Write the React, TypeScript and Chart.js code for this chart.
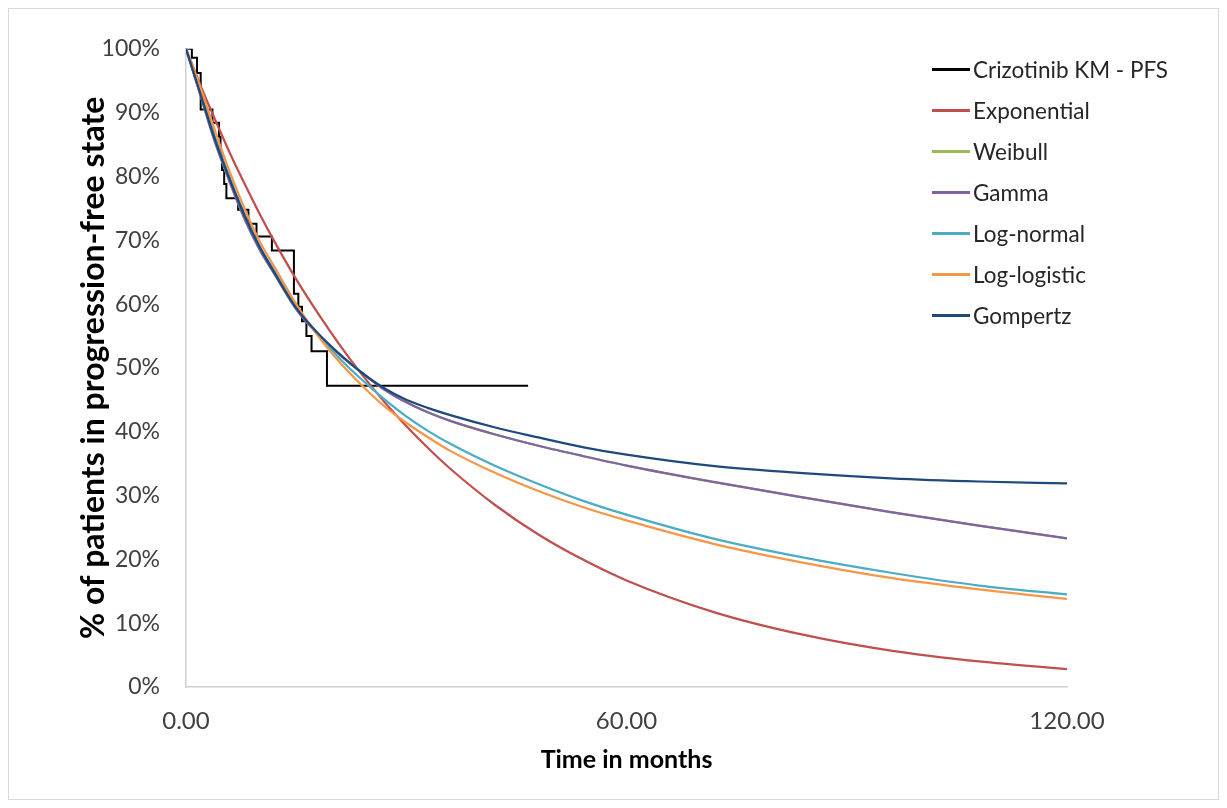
import React, { useEffect, useRef } from "react";
import { Chart, registerables } from "chart.js";

Chart.register(...registerables);

// ---- Data ----
const seriesNames = [
  "Crizotinib KM - PFS",
  "Exponential",
  "Weibull",
  "Gamma",
  "Log-normal",
  "Log-logistic",
  "Gompertz",
];

const seriesColors = ["#000000", "#c0504d", "#9bbb59", "#8064a2", "#4bacc6", "#f79646", "#1f497d"];

// Kaplan-Meier step points (months, % progression-free)
const kmTimes = [0, 0.8, 1.5, 2.0, 3.6, 4.5, 4.7, 4.9, 5.2, 5.5, 7.1, 8.5, 9.6, 11.7, 14.7, 15.3, 15.8, 16.4, 17.1, 19.2, 46.6];
const kmValues = [100, 98.6, 96.2, 90.5, 88.4, 86.2, 83.8, 81.0, 78.8, 76.6, 74.8, 72.6, 70.6, 68.4, 61.6, 59.6, 57.3, 55.0, 52.6, 47.2, 47.2];

// Fitted curves, sampled times (months)
const curveTimes = [0, 2, 4, 6, 8, 10, 12, 15, 18, 21, 24, 27, 30, 33, 36, 42, 48, 54, 60, 72, 84, 96, 108, 120];
const exponentialValues = [100, 94.2, 88.8, 83.6, 78.8, 74.2, 69.9, 63.9, 58.5, 53.5, 48.9, 44.7, 40.9, 37.4, 34.2, 28.6, 23.9, 20.0, 16.7, 11.7, 8.2, 5.7, 4.0, 2.8];
const weibullValues = [100, 92.6, 85.2, 79.0, 73.3, 68.6, 64.8, 59.2, 55.2, 52.0, 49.2, 46.6, 44.6, 43.0, 41.7, 39.6, 37.8, 36.2, 34.7, 32.1, 29.7, 27.4, 25.3, 23.3];
const gammaValues = [100, 92.6, 85.2, 79.0, 73.3, 68.6, 64.8, 59.2, 55.2, 52.0, 49.2, 46.6, 44.6, 43.0, 41.7, 39.6, 37.8, 36.2, 34.7, 32.1, 29.7, 27.4, 25.3, 23.3];
const logNormalValues = [100, 93.2, 86.0, 79.7, 74.0, 69.1, 65.3, 59.6, 55.2, 51.4, 48.1, 45.1, 42.4, 40.1, 38.1, 34.7, 31.8, 29.2, 27.0, 23.2, 20.3, 17.9, 15.9, 14.5];
const logLogisticValues = [100, 93.8, 87.0, 80.6, 74.9, 69.9, 65.9, 60.0, 55.0, 50.8, 47.2, 44.0, 41.4, 39.1, 37.0, 33.6, 30.7, 28.2, 26.1, 22.4, 19.5, 17.1, 15.3, 13.8];
const gompertzValues = [100, 92.8, 85.6, 79.4, 73.8, 69.0, 65.0, 59.4, 55.4, 52.1, 49.2, 46.8, 45.0, 43.7, 42.6, 40.7, 39.1, 37.6, 36.4, 34.6, 33.5, 32.7, 32.2, 31.9];

const xTickValues = [0, 60, 120];
const yTickStep = 10;

const FONT = "Lato, 'Open Sans', sans-serif";

function toPoints(xs: number[], ys: number[]) {
  return xs.map((x, i) => ({ x, y: ys[i] }));
}

export default function App() {
  const canvasRef = useRef<HTMLCanvasElement | null>(null);

  useEffect(() => {
    if (!canvasRef.current) return;
    const curves = [exponentialValues, weibullValues, gammaValues, logNormalValues, logLogisticValues, gompertzValues];
    const datasets: any[] = [
      {
        label: seriesNames[0],
        data: toPoints(kmTimes, kmValues),
        borderColor: seriesColors[0],
        borderWidth: 2,
        stepped: "before",
        pointRadius: 0,
        fill: false,
        order: 6,
      },
      ...curves.map((vals, i) => ({
        label: seriesNames[i + 1],
        data: toPoints(curveTimes, vals),
        borderColor: seriesColors[i + 1],
        borderWidth: 2.25,
        cubicInterpolationMode: "monotone",
        pointRadius: 0,
        fill: false,
        order: 5 - i,
      })),
    ];

    const chart = new Chart(canvasRef.current, {
      type: "line",
      data: { datasets },
      options: {
        animation: false,
        responsive: true,
        maintainAspectRatio: false,
        layout: { padding: { top: 33, right: 151, left: 0, bottom: 0 } },
        plugins: {
          legend: { display: false },
          tooltip: { enabled: false },
        },
        scales: {
          x: {
            type: "linear",
            min: 0,
            max: 120,
            afterBuildTicks: (scale: any) => {
              scale.ticks = xTickValues.map((v) => ({ value: v }));
            },
            afterFit: (scale: any) => {
              scale.height = 112;
            },
            ticks: {
              color: "#404040",
              font: { family: FONT, size: 24 },
              padding: 20,
              maxRotation: 0,
              callback: (v: any) => Number(v).toFixed(2),
            },
            grid: { display: false, drawTicks: false },
            border: { display: true, color: "#d0d0d0", width: 1.5 },
            title: {
              display: true,
              text: "Time in months",
              color: "#000",
              font: { family: FONT, size: 25, weight: "bold" },
              padding: { top: 0, bottom: 24 },
            },
          },
          y: {
            type: "linear",
            min: 0,
            max: 100,
            afterFit: (scale: any) => {
              scale.width = 177;
            },
            ticks: {
              stepSize: yTickStep,
              color: "#404040",
              font: { family: FONT, size: 23 },
              padding: 26,
              callback: (v: any) => `${v}%`,
            },
            grid: { display: false, drawTicks: false },
            border: { display: true, color: "#d0d0d0", width: 1.5 },
            title: {
              display: true,
              text: "% of patients in progression-free state",
              color: "#000",
              font: { family: FONT, size: 32, weight: "bold" },
              padding: { top: 65, bottom: 0 },
            },
          },
        },
      } as any,
    });
    return () => chart.destroy();
  }, []);

  return (
    <div
      style={{
        position: "relative",
        width: 1211,
        height: 792,
        border: "1px solid #d9d9d9",
        boxSizing: "border-box",
        background: "#fff",
      }}
    >
      <div style={{ position: "relative", width: 1209, height: 790 }}>
        <canvas ref={canvasRef} />
      </div>
      <div
        style={{
          position: "absolute",
          left: 923,
          top: 40,
          fontFamily: FONT,
          fontSize: 22.5,
          color: "#262626",
        }}
      >
        {seriesNames.map((name, i) => (
          <div key={name} style={{ display: "flex", alignItems: "center", height: 41 }}>
            <span
              style={{
                display: "inline-block",
                width: 38,
                height: 2.5,
                background: seriesColors[i],
                marginRight: 3,
              }}
            />
            <span>{name}</span>
          </div>
        ))}
      </div>
    </div>
  );
}
